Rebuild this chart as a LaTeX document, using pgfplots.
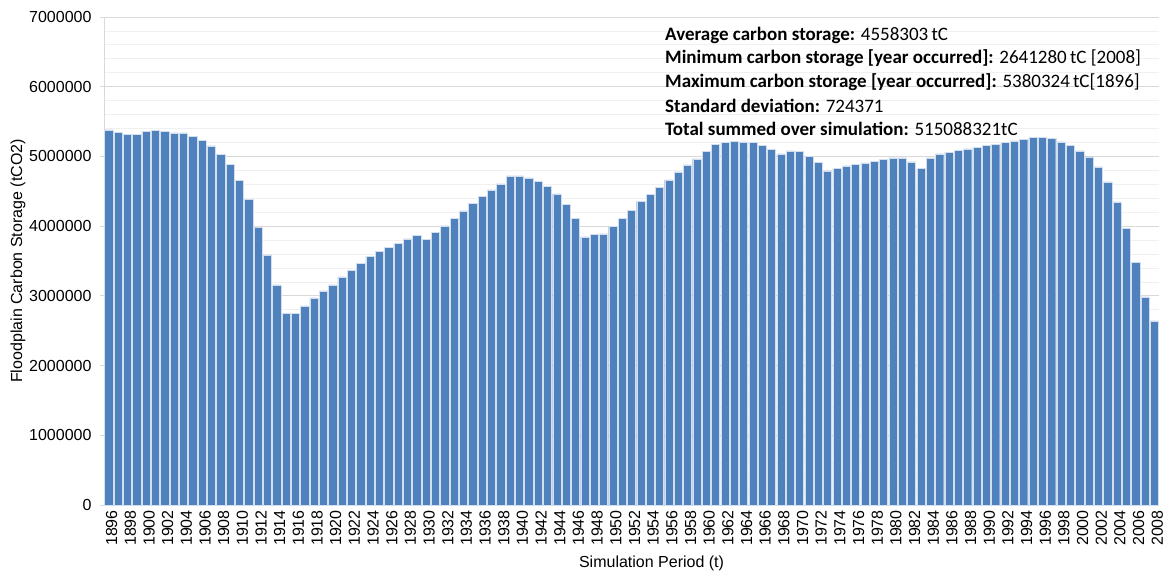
\documentclass[border=0pt]{standalone}
\usepackage{pgfplots}
\pgfplotsset{compat=1.18}
\usepackage{pgfplotstable}
\usepackage{fontspec}
\setmainfont{Liberation Sans}
\newfontfamily\calibri{Carlito}

\definecolor{barblue}{HTML}{4F81BD}
\definecolor{gridmajor}{HTML}{D9D9D9}
\definecolor{gridminor}{HTML}{F0F0F0}

% floodplain carbon storage per year (tC)
\pgfplotstableread{
year value
1896 5380324
1897 5347000
1898 5313000
1899 5313000
1900 5361000
1901 5372000
1902 5361000
1903 5337000
1904 5337000
1905 5290000
1906 5232000
1907 5151000
1908 5031000
1909 4883000
1910 4658000
1911 4380000
1912 3984000
1913 3587000
1914 3156000
1915 2745000
1916 2745000
1917 2855000
1918 2970000
1919 3070000
1920 3156000
1921 3271000
1922 3367000
1923 3467000
1924 3562000
1925 3634000
1926 3700000
1927 3749000
1928 3816000
1929 3869000
1930 3807000
1931 3912000
1932 4003000
1933 4113000
1934 4218000
1935 4323000
1936 4423000
1937 4519000
1938 4605000
1939 4720000
1940 4720000
1941 4692000
1942 4639000
1943 4567000
1944 4462000
1945 4309000
1946 4113000
1947 3845000
1948 3878000
1949 3888000
1950 3993000
1951 4113000
1952 4228000
1953 4357000
1954 4452000
1955 4552000
1956 4663000
1957 4778000
1958 4878000
1959 4964000
1960 5069000
1961 5175000
1962 5198000
1963 5218000
1964 5208000
1965 5198000
1966 5160000
1967 5103000
1968 5036000
1969 5079000
1970 5069000
1971 5002000
1972 4917000
1973 4792000
1974 4825000
1975 4864000
1976 4888000
1977 4907000
1978 4931000
1979 4954000
1980 4978000
1981 4978000
1982 4921000
1983 4825000
1984 4978000
1985 5036000
1986 5060000
1987 5083000
1988 5108000
1989 5131000
1990 5155000
1991 5175000
1992 5198000
1993 5222000
1994 5246000
1995 5270000
1996 5270000
1997 5256000
1998 5208000
1999 5160000
2000 5079000
2001 4993000
2002 4849000
2003 4634000
2004 4347000
2005 3970000
2006 3482000
2007 2984000
2008 2641280
}\carbon

\begin{document}
\fontsize{16}{19}\selectfont
\begin{tikzpicture}
\useasboundingbox (0,0) rectangle (1165pt,573pt);
\begin{axis}[
    at={(104pt,68pt)}, anchor=south west,
    scale only axis,
    width=1055pt, height=488pt,
    xmin=1895.5, xmax=2008.5,
    ymin=0, ymax=7000000,
    xtick={1896,1898,...,2008},
    ytick={0,1000000,...,7000000},
    minor y tick num=4,
    ymajorgrids, yminorgrids,
    major grid style={gridmajor, line width=0.8pt},
    minor grid style={gridminor, line width=0.8pt},
    axis x line*=bottom, axis y line*=left,
    axis line style={-, draw=gridmajor, line width=0.8pt},
    x tick style={draw=none},
    y tick style={draw=gridmajor, line width=0.8pt},
    major tick length=4pt, minor tick length=0pt,
    tick align=outside,
    scaled y ticks=false,
    /pgf/number format/assume math mode=true,
    /pgf/number format/fixed,
    /pgf/number format/precision=0,
    /pgf/number format/1000 sep={},
    ticklabel style={font=\fontsize{16}{19}\selectfont},
    yticklabel style={xshift=-3pt},
    xticklabel style={rotate=90, anchor=east, inner sep=1pt, yshift=-3pt},
    xlabel={Simulation Period (t)},
    ylabel={Floodplain Carbon Storage (tCO2)},
    xlabel style={at={(axis description cs:0.519,-0.119)}, anchor=center, font=\fontsize{16}{19}\selectfont},
    ylabel style={at={(axis description cs:-0.0815,0.5)}, anchor=center, font=\fontsize{16}{19}\selectfont},
    ybar, bar width=0.88,
    clip=false,
]
\addplot[fill=barblue, draw=white!75!barblue, line width=0.4pt] table[x=year, y=value] {\carbon};
\end{axis}
\begin{scope}[every node/.style={anchor=west, inner sep=0pt, font=\calibri\fontsize{19}{22}\selectfont}]
\node at (665pt,538pt) {\textbf{Average carbon storage:} 4558303\,tC};
\node at (665pt,514.5pt) {\textbf{Minimum carbon storage [year occurred]:} 2641280\,tC [2008]};
\node at (665pt,491pt) {\textbf{Maximum carbon storage [year occurred]:} 5380324\,tC[1896]};
\node at (665pt,467.5pt) {\textbf{Standard deviation:} 724371};
\node at (665pt,444pt) {\textbf{Total summed over simulation:} 515088321tC};
\end{scope}
\end{tikzpicture}
\end{document}
